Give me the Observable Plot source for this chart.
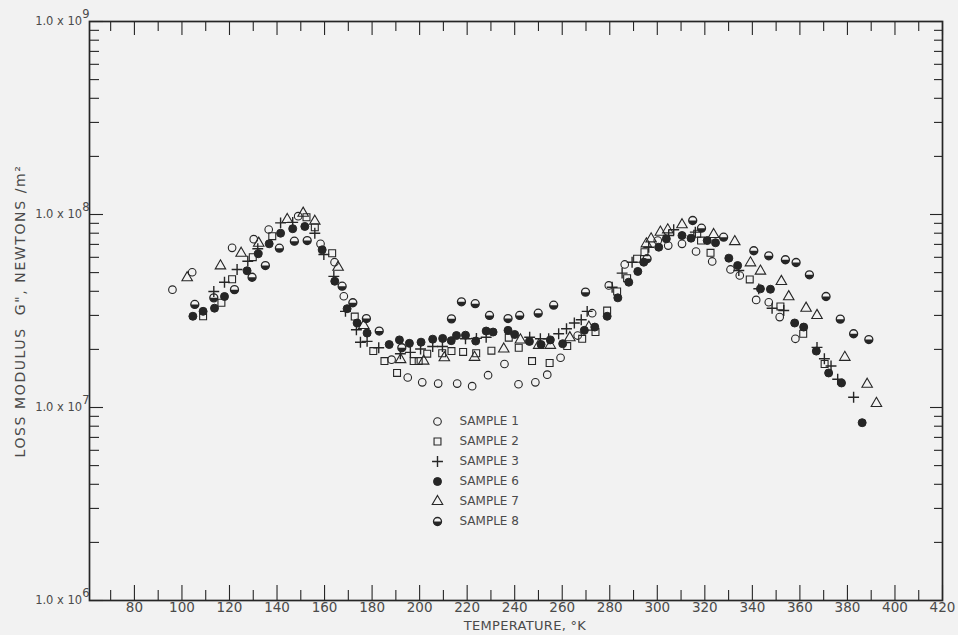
<!DOCTYPE html>
<html><head><meta charset="utf-8">
<script src="https://cdn.jsdelivr.net/npm/d3@7"></script>
<script src="https://cdn.jsdelivr.net/npm/@observablehq/plot@0.6"></script>
<style>
body{margin:0;background:#f2f2f2;}
#wrap{position:relative;width:958px;height:635px;}
#legend{position:absolute;left:420px;top:408px;}
</style></head><body><div id="wrap"><div id="chart"></div><div id="legend"></div></div>
<script>
// ---- data (temperature °K, loss modulus N/m²) ----
const s1T = [96.0,104.3,121.1,130.2,136.5,148.9,158.3,164.2,168.1,188.2,195.0,201.1,207.8,215.8,222.1,228.8,235.7,241.6,248.7,253.7,259.3,266.5,272.6,279.6,286.3,300.2,304.6,310.4,316.3,323.1,330.8,334.7,341.6,346.9,351.5,358.1];
const s1G = [4.08e7,5.02e7,6.72e7,7.45e7,8.36e7,9.8e7,7.05e7,5.66e7,3.77e7,1.77e7,1.43e7,1.35e7,1.33e7,1.33e7,1.29e7,1.47e7,1.68e7,1.32e7,1.35e7,1.48e7,1.81e7,2.36e7,3.08e7,4.29e7,5.51e7,7.33e7,6.90e7,7.05e7,6.43e7,5.71e7,5.19e7,4.83e7,3.61e7,3.51e7,2.94e7,2.27e7];

const s2T = [108.9,116.6,121.1,129.8,138.0,152.4,155.9,163.2,172.7,180.5,185.2,190.5,197.5,199.6,203.2,209.5,213.4,218.3,223.8,230.2,237.5,241.7,247.3,254.7,262.1,268.4,274.0,278.9,283.1,287.3,291.5,294.6,316.8,318.4,322.4,338.9,351.8,361.4,370.4];
const s2G = [2.97e7,3.49e7,4.62e7,6.01e7,7.72e7,9.68e7,8.59e7,6.3e7,2.96e7,1.96e7,1.74e7,1.51e7,1.74e7,1.74e7,1.90e7,1.91e7,1.96e7,1.94e7,1.91e7,1.97e7,2.30e7,2.04e7,1.74e7,1.70e7,2.08e7,2.27e7,2.46e7,3.18e7,3.99e7,4.68e7,5.9e7,6.38e7,7.95e7,7.33e7,6.33e7,4.61e7,3.34e7,2.41e7,1.68e7];

const s3T = [113.4,117.9,123.2,127.7,131.9,141.5,146.6,155.9,159.7,163.9,168.8,173.4,175.1,177.9,182.8,191.9,196.1,200.4,205.5,209.6,219.3,223.9,228.0,246.3,250.8,254.3,258.5,261.8,265.1,268.0,270.5,281.0,285.2,289.4,296.4,304.8,306.9,316.0,334.3,342.7,348.3,353.2,367.2,370.3,373.1,375.9,382.6];
const s3G = [3.99e7,4.46e7,5.19e7,5.73e7,6.64e7,9.05e7,9.1e7,8.0e7,6.21e7,4.78e7,3.15e7,2.53e7,2.18e7,2.2e7,2.04e7,1.90e7,1.93e7,2.01e7,2.07e7,2.07e7,2.27e7,2.28e7,2.31e7,2.31e7,2.27e7,2.27e7,2.41e7,2.56e7,2.74e7,2.85e7,3.15e7,4.2e7,4.97e7,5.66e7,6.77e7,7.78e7,8.33e7,8.1e7,5.13e7,4.12e7,3.27e7,3.18e7,2.05e7,1.79e7,1.64e7,1.40e7,1.13e7];

const s6T = [104.6,108.9,113.7,117.9,127.4,132.1,136.7,141.5,146.6,151.7,159.0,164.3,169.5,173.7,177.9,187.2,191.5,195.7,200.6,205.5,209.7,213.3,215.5,219.3,223.6,228.0,230.9,237.2,240.0,246.2,251.1,255.0,260.2,269.3,273.7,278.9,283.4,288.0,291.8,294.3,300.6,303.8,310.4,314.2,321.0,324.5,330.1,333.8,343.4,347.6,357.8,361.6,366.9,372.1,377.5,386.2];
const s6G = [2.97e7,3.15e7,3.27e7,3.76e7,5.11e7,6.26e7,7.05e7,8.0e7,8.44e7,8.67e7,6.56e7,4.51e7,3.25e7,2.74e7,2.43e7,2.12e7,2.24e7,2.15e7,2.18e7,2.26e7,2.28e7,2.22e7,2.36e7,2.37e7,2.21e7,2.49e7,2.46e7,2.51e7,2.39e7,2.2e7,2.12e7,2.24e7,2.14e7,2.51e7,2.61e7,2.97e7,3.7e7,4.46e7,5.07e7,5.66e7,6.77e7,7.48e7,7.78e7,7.54e7,7.33e7,7.14e7,5.94e7,5.44e7,4.12e7,4.1e7,2.74e7,2.61e7,1.96e7,1.51e7,1.34e7,8.34e6];

const s7T = [102.2,116.2,124.9,132.3,144.3,151.0,155.9,165.7,176.5,192.0,201.7,210.4,223.1,235.4,242.4,250.1,255.0,263.2,271.2,295.4,297.4,301.3,304.4,310.4,323.7,332.6,339.2,343.4,352.2,355.3,362.6,367.2,378.9,388.3,392.2];
const s7G = [4.70e7,5.42e7,6.3e7,7.1e7,9.42e7,1.016e8,9.23e7,5.33e7,2.66e7,1.77e7,1.74e7,1.81e7,1.82e7,2.01e7,2.24e7,2.10e7,2.10e7,2.3e7,2.61e7,7.05e7,7.48e7,8.1e7,8.33e7,8.85e7,7.88e7,7.24e7,5.62e7,5.09e7,4.5e7,3.75e7,3.27e7,3.0e7,1.82e7,1.32e7,1.05e7];

const s8T = [105.4,113.4,122.1,129.5,135.1,141.0,147.3,152.7,167.4,171.9,177.6,183.0,192.5,213.4,217.6,223.4,229.4,237.2,242.1,249.9,256.4,269.8,295.7,314.9,318.6,327.9,340.6,346.9,353.9,358.4,364.0,371.0,377.0,382.6,389.0];
const s8G = [3.42e7,3.70e7,4.08e7,4.73e7,5.44e7,6.69e7,7.27e7,7.33e7,4.25e7,3.49e7,2.89e7,2.49e7,2.04e7,2.88e7,3.53e7,3.45e7,3.0e7,2.89e7,3.0e7,3.08e7,3.39e7,3.96e7,5.9e7,9.31e7,8.49e7,7.63e7,6.49e7,6.11e7,5.83e7,5.64e7,4.87e7,3.76e7,2.87e7,2.41e7,2.25e7];

const sampleLabels = ["SAMPLE 1","SAMPLE 2","SAMPLE 3","SAMPLE 6","SAMPLE 7","SAMPLE 8"];
const xMajorTicks = [80,100,120,140,160,180,200,220,240,260,280,300,320,340,360,380,400,420];
const xMinorTicks = [70,90,110,130,150,170,190,210,230,250,270,290,310,330,350,370,390,410];
const yMajorTicks = [1e6,1e7,1e8,1e9];
const yMinorTicks = [2e6,3e6,4e6,5e6,6e6,7e6,8e6,9e6,2e7,3e7,4e7,5e7,6e7,7e7,8e7,9e7,2e8,3e8,4e8,5e8,6e8,7e8,8e8,9e8];
const yTickExponents = ["6","7","8","9"];
const xTitle = "TEMPERATURE, °K";
const yTitle = "LOSS MODULUS  G\", NEWTONS /m²";

// ---- layout / style ----
const W = 958, H = 635, ML = 89, MR = 16, MT = 21, MB = 35;
const FW = W - ML - MR, FH = H - MT - MB;
const ink = "#262626", txt = "#4a4a4a", paper = "#f2f2f2";
const font = "'DejaVu Sans', sans-serif";

const halfDisc = {draw(ctx, size){const r = Math.sqrt(size/Math.PI)*0.98; ctx.moveTo(r,0); ctx.arc(0,0,r,0,Math.PI); ctx.closePath();}};

const table = (T,G) => T.map((t,i)=>({T:t, G:G[i]}));
const styles = [
  {data: table(s1T,s1G), symbol:"circle", fill:"none", r:3.8, sw:1.1},
  {data: table(s2T,s2G), symbol:"square", fill:"none", r:3.9, sw:1.1},
  {data: table(s3T,s3G), symbol:"plus", fill:"none", r:3.6, sw:1.4},
  {data: table(s6T,s6G), symbol:"circle", fill:ink, r:4.0, sw:1},
  {data: table(s7T,s7G), symbol:"triangle", fill:"none", r:3.9, sw:1.1},
  {data: table(s8T,s8G), symbol:"circle", fill:"none", r:4.0, sw:1.3, half:true}
];

function dotsFor(s, data, opts){
  const m = [Plot.dot(data, {...opts, symbol:s.symbol, r:s.r, fill:s.fill, stroke:ink, strokeWidth:s.sw})];
  if (s.half) m.push(Plot.dot(data, {...opts, symbol:halfDisc, r:s.r, fill:ink, stroke:"none"}));
  return m;
}

const chart = Plot.plot({
  width: W, height: H,
  marginLeft: ML, marginRight: MR, marginTop: MT, marginBottom: MB,
  style: {background: paper, fontFamily: font, fontSize: "13px", color: txt, overflow: "visible"},
  x: {domain:[61.1,420], ticks: xMajorTicks, tickFormat: d=>String(d), tickSize: 0, tickPadding: 2, label: null},
  y: {type:"log", domain:[1e6,1e9], ticks: yMajorTicks, tickFormat: d=>"1.0 x 10^" + yTickExponents[Math.round(Math.log10(d))-6], tickSize: 0, tickPadding: 0, label: null},
  marks: [
    Plot.tickX(xMajorTicks, {x:d=>d, insetTop: FH-15, stroke: ink, strokeWidth: 1.1}),
    Plot.tickX(xMinorTicks, {x:d=>d, insetTop: FH-10, stroke: ink, strokeWidth: 1.1}),
    Plot.tickX(xMajorTicks, {x:d=>d, insetBottom: FH-14, stroke: ink, strokeWidth: 1.1}),
    Plot.tickX(xMinorTicks, {x:d=>d, insetBottom: FH-10, stroke: ink, strokeWidth: 1.1}),
    Plot.tickY(yMajorTicks, {y:d=>d, insetRight: FW-14, stroke: ink, strokeWidth: 1.1}),
    Plot.tickY(yMinorTicks, {y:d=>d, insetRight: FW-10, stroke: ink, strokeWidth: 1.1}),
    Plot.tickY(yMajorTicks, {y:d=>d, insetLeft: FW-12, stroke: ink, strokeWidth: 1.1}),
    Plot.tickY(yMinorTicks, {y:d=>d, insetLeft: FW-8, stroke: ink, strokeWidth: 1.1}),
    Plot.frame({stroke: ink, strokeWidth: 1.7}),
    ...styles.flatMap(s => dotsFor(s, s.data, {x:"T", y:"G"})),
    Plot.text([xTitle], {text:d=>d, frameAnchor:"bottom", dy: 29, dx: 9, textAnchor: "middle", fill: txt, fontSize: 13}),
    Plot.text([yTitle], {text:d=>d, frameAnchor:"left", dx: -69, rotate: -90, textAnchor: "middle", fill: txt, fontSize: 14})
  ]
});
document.getElementById("chart").appendChild(chart);

// tick label sizes, letter spacing, superscript exponents on y tick labels
chart.querySelectorAll("text").forEach(t => {
  const s = t.textContent;
  if (/^\d+$/.test(s)) { t.style.fontSize = "13.5px"; t.style.fill = txt; return; }
  if (s === yTitle) { t.style.letterSpacing = "1.6px"; return; }
  if (s === xTitle) { t.style.letterSpacing = "0.3px"; return; }
  const m = /^1\.0 x 10\^(\d)$/.exec(s);
  if (!m) return;
  t.textContent = "1.0 x 10";
  t.style.fontSize = "11.5px";
  t.style.fill = txt;
  const sup = document.createElementNS("http://www.w3.org/2000/svg","tspan");
  sup.setAttribute("dy","-0.6em");
  sup.textContent = m[1];
  t.appendChild(sup);
});

// legend
const legend = Plot.plot({
  width: 150, height: 125, margin: 0,
  style: {background: "transparent", fontFamily: font, fontSize: "12px", color: txt, overflow: "visible"},
  x: {axis: null},
  y: {type: "point", domain: sampleLabels, range: [12, 113], padding: 0, axis: null},
  marks: [
    ...styles.flatMap((s,i) => dotsFor(s, [sampleLabels[i]], {y: d=>d, frameAnchor: "left", dx: 17})),
    Plot.text(sampleLabels, {y: d=>d, text: d=>d, frameAnchor: "left", dx: 39, textAnchor: "start", fill: txt, fontSize: 12})
  ]
});
document.getElementById("legend").appendChild(legend);
</script>
</body></html>
